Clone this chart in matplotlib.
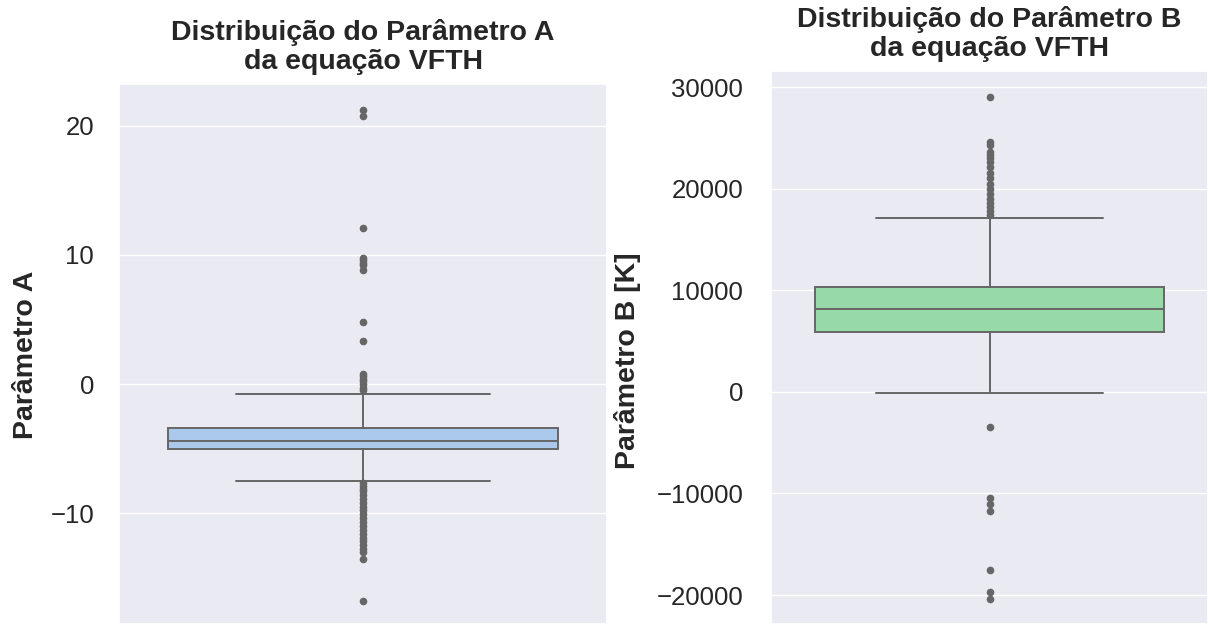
import matplotlib
matplotlib.use("Agg")
import matplotlib.pyplot as plt
import seaborn as sns

# ---- Data ----
# Parameter A box statistics
a_q1, a_med, a_q3 = -5.05, -4.45, -3.40
a_whislo, a_whishi = -7.55, -0.75
a_fliers = [21.2, 20.8, 12.1, 9.8, 9.6, 9.4, 9.2, 8.8, 4.8, 3.3,
            0.8, 0.6, 0.4, 0.2, 0.0, -0.3, -0.5,
            -7.7, -7.9, -8.1, -8.3, -8.6, -8.9, -9.2, -9.5, -9.8, -10.1,
            -10.4, -10.7, -11.0, -11.3, -11.6, -11.9, -12.2, -12.5, -12.8,
            -13.0, -13.6, -16.8]

# Parameter B box statistics [K]
b_q1, b_med, b_q3 = 5900, 8150, 10300
b_whislo, b_whishi = -150, 17100
b_fliers = [29000, 24600, 24300, 23600, 23300, 23000, 22600, 22100, 21500,
            21000, 20500, 20000, 19500, 19000, 18600, 18200, 17800, 17400,
            -3500, -10500, -11000, -11700, -17500, -19700, -20400]

titles = ["Distribuição do Parâmetro A\nda equação VFTH",
          "Distribuição do Parâmetro B\nda equação VFTH"]
ylabels = ["Parâmetro A", "Parâmetro B [K]"]
a_ticks = [-10, 0, 10, 20]
b_ticks = [-20000, -10000, 0, 10000, 20000, 30000]

sns.set_theme(style="darkgrid")
plt.rcParams['font.family'] = ['Liberation Sans', 'DejaVu Sans']

box_colors = [sns.desaturate("#a1c9f4", 0.75), sns.desaturate("#8de5a1", 0.75)]
line_color = "#666666"
text_color = "#262626"

fig = plt.figure(figsize=(12.08, 6.24), dpi=100)
ax1 = fig.add_axes([119 / 1208, 0.0, 488 / 1208, 540 / 624])
ax2 = fig.add_axes([771 / 1208, 0.0, 437 / 1208, 553 / 624])

stats_list = [
    dict(q1=a_q1, med=a_med, q3=a_q3, whislo=a_whislo, whishi=a_whishi, fliers=a_fliers),
    dict(q1=b_q1, med=b_med, q3=b_q3, whislo=b_whislo, whishi=b_whishi, fliers=b_fliers),
]

for ax, st, col, title, ylab in zip([ax1, ax2], stats_list, box_colors, titles, ylabels):
    lw = 1.4
    ax.bxp([st], positions=[0], widths=[0.8], capwidths=[0.52], patch_artist=True,
           showfliers=True,
           boxprops=dict(facecolor=col, edgecolor=line_color, linewidth=lw),
           medianprops=dict(color=line_color, linewidth=lw),
           whiskerprops=dict(color=line_color, linewidth=lw),
           capprops=dict(color=line_color, linewidth=lw),
           flierprops=dict(marker='o', markersize=4.5, markerfacecolor=line_color,
                           markeredgecolor=line_color, linestyle='none'))
    ax.set_xlim(-0.5, 0.5)
    ax.set_xticks([])
    ax.set_title(title, fontsize=20.5, fontweight='bold', color=text_color, pad=11,
                 linespacing=1.15)
    ax.set_ylabel(ylab, fontsize=20.5, fontweight='bold', color=text_color)
    ax.tick_params(axis='y', labelsize=18.5, labelcolor=text_color, length=0)

ax1.tick_params(axis='y', pad=18)
ax2.tick_params(axis='y', pad=20)

ax1.set_ylim(-18.6, 23.25)
ax1.set_yticks(a_ticks)
ax2.set_ylim(-22854, 31575)
ax2.set_yticks(b_ticks)

ax1.yaxis.set_label_coords(-0.164, 0.498)
ax2.yaxis.set_label_coords(-0.297, 0.477)

fig.savefig("out.png", dpi=100)
